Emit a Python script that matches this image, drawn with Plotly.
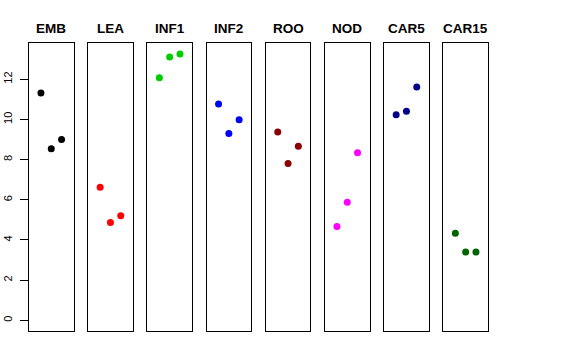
import plotly.graph_objects as go

categories = ["EMB", "LEA", "INF1", "INF2", "ROO", "NOD", "CAR5", "CAR15"]
x_positions = [1, 2, 3]
values = {
    "EMB": [11.32, 8.54, 9.00],
    "LEA": [6.62, 4.87, 5.21],
    "INF1": [12.08, 13.11, 13.26],
    "INF2": [10.77, 9.30, 9.98],
    "ROO": [9.37, 7.81, 8.66],
    "NOD": [4.67, 5.88, 8.34],
    "CAR5": [10.23, 10.41, 11.62],
    "CAR15": [4.34, 3.40, 3.40],
}
colors = ["#000000", "#FF0000", "#00CD00", "#0000FF", "#8B0000", "#FF00FF", "#00008B", "#006400"]
y_ticks = [0, 2, 4, 6, 8, 10, 12]

W, H = 576, 360
fig = go.Figure()
panel_left0 = 29.0
panel_step = 59.2
panel_w = 44.5
y_top_px, y_bot_px = 43.3, 331.0
y_dom = [(H - y_bot_px) / H, (H - y_top_px) / H]

for i, cat in enumerate(categories):
    n = i + 1
    xa = "x" if n == 1 else f"x{n}"
    ya = "y" if n == 1 else f"y{n}"
    fig.add_trace(go.Scatter(
        x=x_positions, y=values[cat], mode="markers",
        marker=dict(color=colors[i], size=7, line=dict(width=0)),
        xaxis=xa, yaxis=ya, showlegend=False, hoverinfo="skip"))
    x0 = (panel_left0 + panel_step * i) / W
    x1 = (panel_left0 + panel_step * i + panel_w) / W
    xkey = "xaxis" if n == 1 else f"xaxis{n}"
    ykey = "yaxis" if n == 1 else f"yaxis{n}"
    fig.layout[xkey] = dict(domain=[x0, x1], range=[-0.16, 4.16], showgrid=False,
                            zeroline=False, showticklabels=False, ticks="",
                            showline=True, mirror=True, linecolor="#000000", linewidth=1,
                            anchor=ya, automargin=False)
    ydict = dict(domain=y_dom, range=[-0.53, 13.79], showgrid=False, zeroline=False,
                 showline=True, mirror=True, linecolor="#000000", linewidth=1,
                 anchor=xa, automargin=False)
    if n == 1:
        ydict.update(tickmode="array", tickvals=y_ticks, ticktext=[str(t) for t in y_ticks],
                     ticks="outside", ticklen=8, tickcolor="#000000", tickwidth=1,
                     tickangle=-90, ticklabelstandoff=4,
                     tickfont=dict(family="Liberation Sans, Arial", size=11, color="#000000"))
    else:
        ydict.update(showticklabels=False, ticks="")
    fig.layout[ykey] = ydict
    fig.add_annotation(text=f"<b>{cat}</b>", x=(x0 + x1) / 2, y=(H - 28.7) / H,
                       xref="paper", yref="paper", showarrow=False,
                       xanchor="center", yanchor="middle",
                       font=dict(family="Liberation Sans, Arial", size=13.5, color="#000000"))

fig.update_layout(width=W, height=H, margin=dict(l=0, r=0, t=0, b=0, autoexpand=False),
                  paper_bgcolor="white", plot_bgcolor="white")
fig.write_html("out.html", config={"displayModeBar": False},
               post_script="document.body.style.margin='0';document.body.style.padding='0';")
